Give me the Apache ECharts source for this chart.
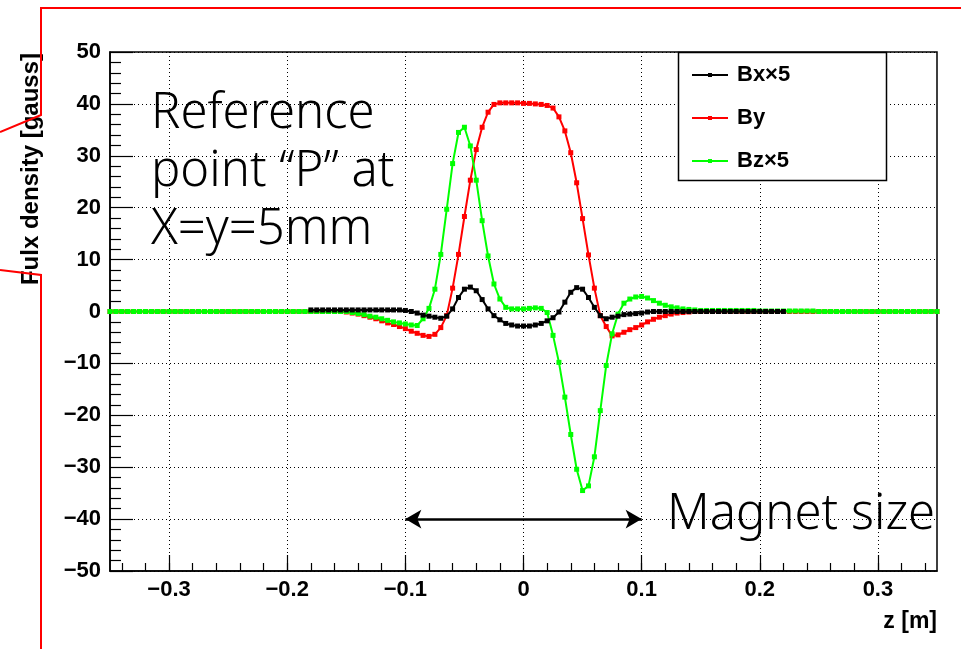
<!DOCTYPE html>
<html>
<head>
<meta charset="utf-8">
<script src="https://cdn.jsdelivr.net/npm/echarts@6.0.0/dist/echarts.min.js"></script>
<style>
  html, body { margin: 0; padding: 0; background: #ffffff; }
  #chart { width: 961px; height: 649px; }
</style>
</head>
<body>
<div id="chart"></div>
<script>
// Sample positions along the beam axis z [m]
const zPos = [
  -0.350, -0.345, -0.340, -0.335, -0.330, -0.325, -0.320, -0.315, -0.310, -0.305,
  -0.300, -0.295, -0.290, -0.285, -0.280, -0.275, -0.270, -0.265, -0.260, -0.255,
  -0.250, -0.245, -0.240, -0.235, -0.230, -0.225, -0.220, -0.215, -0.210, -0.205,
  -0.200, -0.195, -0.190, -0.185, -0.180, -0.175, -0.170, -0.165, -0.160, -0.155,
  -0.150, -0.145, -0.140, -0.135, -0.130, -0.125, -0.120, -0.115, -0.110, -0.105,
  -0.100, -0.095, -0.090, -0.085, -0.080, -0.075, -0.070, -0.065, -0.060, -0.055,
  -0.050, -0.045, -0.040, -0.035, -0.030, -0.025, -0.020, -0.015, -0.010, -0.005,
   0.000,  0.005,  0.010,  0.015,  0.020,  0.025,  0.030,  0.035,  0.040,  0.045,
   0.050,  0.055,  0.060,  0.065,  0.070,  0.075,  0.080,  0.085,  0.090,  0.095,
   0.100,  0.105,  0.110,  0.115,  0.120,  0.125,  0.130,  0.135,  0.140,  0.145,
   0.150,  0.155,  0.160,  0.165,  0.170,  0.175,  0.180,  0.185,  0.190,  0.195,
   0.200,  0.205,  0.210,  0.215,  0.220,  0.225,  0.230,  0.235,  0.240,  0.245,
   0.250,  0.255,  0.260,  0.265,  0.270,  0.275,  0.280,  0.285,  0.290,  0.295,
   0.300,  0.305,  0.310,  0.315,  0.320,  0.325,  0.330,  0.335,  0.340,  0.345,
   0.350
];

// Bx x 5 [gauss] (measured only between about -0.18 and 0.22 m)
const bx5 = [
  null, null, null, null, null, null, null, null, null, null,
  null, null, null, null, null, null, null, null, null, null,
  null, null, null, null, null, null, null, null, null, null,
  null, null, null, null, 0.3, 0.3, 0.3, 0.3, 0.3, 0.3,
  0.3, 0.3, 0.3, 0.3, 0.3, 0.3, 0.3, 0.3, 0.3, 0.3,
  0.2, 0.0, -0.3, -0.7, -0.9, -1.1, -1.3, -0.9, 0.5, 2.7,
  4.3, 4.7, 4.0, 2.3, 0.5, -0.8, -1.6, -2.3, -2.6, -2.8,
  -2.8, -2.8, -2.6, -2.3, -1.8, -1.2, -0.1, 1.8, 3.7, 4.6,
  4.3, 2.7, 0.8, -0.8, -1.4, -1.1, -0.9, -0.6, -0.5, -0.4,
  -0.3, -0.1, 0.0, 0.0, 0.0, 0.0, 0.0, 0.0, 0.0, 0.0,
  0.0, 0.0, 0.0, 0.0, 0.0, 0.0, 0.0, 0.0, 0.0, 0.0,
  0.0, 0.0, 0.0, 0.0, 0.0, null, null, null, null, null,
  null, null, null, null, null, null, null, null, null, null,
  null, null, null, null, null, null, null, null, null, null,
  null
];

// By [gauss]
const by = [
  0, 0, 0, 0, 0, 0, 0, 0, 0, 0,
  0, 0, 0, 0, 0, 0, 0, 0, 0, 0,
  0, 0, 0, 0, 0, 0, 0, 0, 0, 0,
  0, 0, 0, 0, 0, 0, 0, 0, 0, 0,
  -0.1, -0.3, -0.5, -0.8, -1.1, -1.4, -1.8, -2.2, -2.5, -2.9,
  -3.3, -3.8, -4.2, -4.6, -4.8, -4.4, -3.1, -0.8, 4.5, 11.0,
  18.3, 25.3, 31.2, 35.5, 38.4, 39.9, 40.2, 40.2, 40.2, 40.2,
  40.1, 40.1, 40.0, 39.9, 39.7, 39.2, 37.5, 34.8, 30.6, 24.8,
  17.9, 10.9, 4.5, -0.8, -2.9, -4.7, -4.5, -4.0, -3.5, -3.1,
  -2.6, -2.0, -1.5, -1.1, -0.8, -0.5, -0.3, -0.2, -0.1, 0,
  0, 0, 0, 0, 0, 0, 0, 0, 0, 0,
  0, 0, 0, 0, 0, 0, 0, 0, 0, 0,
  0, 0, 0, 0, 0, 0, 0, 0, 0, 0,
  0, 0, 0, 0, 0, 0, 0, 0, 0, 0,
  0
];

// Bz x 5 [gauss]
const bz5 = [
  0, 0, 0, 0, 0, 0, 0, 0, 0, 0,
  0, 0, 0, 0, 0, 0, 0, 0, 0, 0,
  0, 0, 0, 0, 0, 0, 0, 0, 0, 0,
  0, 0, 0, 0, 0, 0, 0, 0, 0, 0,
  0, -0.2, -0.4, -0.6, -0.9, -1.1, -1.4, -1.7, -2.0, -2.2,
  -2.4, -2.6, -2.7, -1.4, 0.6, 4.3, 11.0, 19.7, 28.5, 34.5,
  35.5, 31.9, 25.3, 17.5, 10.7, 5.3, 2.4, 0.8, 0.5, 0.5,
  0.5, 0.6, 0.7, 0.6, -0.2, -4.6, -9.8, -16.5, -23.7, -30.4,
  -34.5, -33.6, -28.0, -19.1, -10.4, -4.3, -0.5, 1.6, 2.4, 2.8,
  2.9, 2.6, 2.1, 1.6, 1.2, 0.9, 0.7, 0.5, 0.4, 0.3,
  0.2, 0.2, 0.2, 0.2, 0.2, 0.2, 0.2, 0.2, 0.2, 0.2,
  0.1, 0.1, 0.1, 0.1, 0.1, 0.1, 0.1, 0.1, 0.1, 0.1,
  0, 0, 0, 0, 0, 0, 0, 0, 0, 0,
  0, 0, 0, 0, 0, 0, 0, 0, 0, 0,
  0
];

const seriesNames = ['Bx\u00d75', 'By', 'Bz\u00d75'];
const seriesColors = ['#000000', '#ff0000', '#00ff00'];

// Magnet extent along z [m] and the field level where the span arrow sits
const magnetSpan = [-0.1, 0.1];
const magnetArrowLevel = -40;

const labelFont = '"Liberation Sans", Arial, sans-serif';
const noteFont = '"Noto Sans", "Noto Sans CJK JP", sans-serif';

function pairs(vals) {
  const out = [];
  zPos.forEach((z, i) => { if (vals[i] !== null) out.push([z, vals[i]]); });
  return out;
}

function signed(v, digits) {
  if (Math.abs(v) < 1e-9) return '0';
  const s = Math.abs(v).toFixed(digits);
  return (v < 0 ? '\u2212' : '') + s;
}

// Plot frame in pixels; the tick-only grids share its pixel scale
const frame = { left: 110, right: 24, top: 52, bottom: 78 };
const zMin = -0.35, zMax = 0.35;
const pxPerZ = (961 - frame.left - frame.right) / (zMax - zMin);

function subGrid(lo, hi) {
  return {
    left: frame.left + (lo - zMin) * pxPerZ,
    right: frame.right + (zMax - hi) * pxPerZ,
    top: frame.top, bottom: frame.bottom,
    show: false, outerBoundsMode: 'none'
  };
}

const chart = echarts.init(document.getElementById('chart'), null, { renderer: 'canvas' });

const lineSeries = (name, vals, color, z, extra) => Object.assign({
  name: name,
  type: 'line',
  xAxisIndex: 0, yAxisIndex: 0,
  data: pairs(vals),
  symbol: 'rect',
  symbolSize: 5,
  showSymbol: true,
  smooth: false,
  z: z,
  lineStyle: { color: color, width: 2 },
  itemStyle: { color: color },
  emphasis: { disabled: true },
  animation: false
}, extra || {});

const option = {
  animation: false,
  backgroundColor: '#ffffff',
  grid: [
    Object.assign({ show: true, backgroundColor: 'transparent', borderColor: '#000', borderWidth: 1.5, outerBoundsMode: 'none' }, frame),
    subGrid(-0.34, 0.34),
    subGrid(-0.3, 0.3)
  ],
  xAxis: [
    {
      gridIndex: 0, type: 'value', min: zMin, max: zMax,
      axisLine: { show: true, onZero: false, lineStyle: { color: '#000', width: 1.5 } },
      axisTick: { show: false }, axisLabel: { show: false }, splitLine: { show: false }
    },
    {
      gridIndex: 1, type: 'value', min: -0.34, max: 0.34, interval: 0.02,
      axisLine: { show: false, onZero: false },
      axisTick: { show: true, inside: true, length: 8, lineStyle: { color: '#000', width: 1.2 } },
      axisLabel: { show: false }, splitLine: { show: false }
    },
    {
      gridIndex: 2, type: 'value', min: -0.3, max: 0.3, interval: 0.1,
      axisLine: { show: false, onZero: false },
      axisTick: { show: true, inside: true, length: 16, lineStyle: { color: '#000', width: 1.2 } },
      axisLabel: {
        show: true, margin: 8, color: '#000', fontFamily: labelFont, fontWeight: 'bold', fontSize: 22,
        showMinLabel: true, showMaxLabel: true,
        formatter: v => signed(v, 1)
      },
      splitLine: { show: true, lineStyle: { color: '#000', width: 1, type: [1, 3] } }
    }
  ],
  yAxis: [
    {
      gridIndex: 0, type: 'value', min: -50, max: 50, interval: 10,
      axisLine: { show: true, onZero: false, lineStyle: { color: '#000', width: 1.5 } },
      axisTick: { show: true, inside: true, length: 23, lineStyle: { color: '#000', width: 1.2 } },
      minorTick: { show: true, splitNumber: 5, length: 11, lineStyle: { color: '#000', width: 1.2 } },
      axisLabel: {
        show: true, margin: 9, color: '#000', fontFamily: labelFont, fontWeight: 'bold', fontSize: 22,
        showMinLabel: true, showMaxLabel: true,
        formatter: v => signed(v, 0)
      },
      splitLine: { show: true, lineStyle: { color: '#000', width: 1, type: [1, 3] } },
      minorSplitLine: { show: false }
    },
    { gridIndex: 1, type: 'value', min: -50, max: 50, show: false },
    { gridIndex: 2, type: 'value', min: -50, max: 50, show: false }
  ],
  legend: {
    orient: 'vertical',
    left: 686, top: 59,
    itemWidth: 36, itemHeight: 5, itemGap: 21,
    selectedMode: false,
    z: 20,
    data: seriesNames,
    textStyle: { color: '#000', fontFamily: labelFont, fontWeight: 'bold', fontSize: 22, padding: [0, 0, 0, 4] }
  },
  series: [
    lineSeries(seriesNames[1], by, seriesColors[1], 3),
    lineSeries(seriesNames[2], bz5, seriesColors[2], 4),
    lineSeries(seriesNames[0], bx5, seriesColors[0], 5, {
      markLine: {
        silent: true,
        symbol: ['arrow', 'arrow'],
        symbolSize: [14, 16],
        label: { show: false },
        lineStyle: { color: '#000', width: 2.5, type: 'solid' },
        data: [[
          { coord: [magnetSpan[0], magnetArrowLevel] },
          { coord: [magnetSpan[1], magnetArrowLevel] }
        ]],
        animation: false
      }
    })
  ],
  graphic: [
    // legend box
    {
      type: 'rect', z: 15, silent: true,
      shape: { x: 678.5, y: 52.5, width: 208, height: 128 },
      style: { fill: '#fff', stroke: '#000', lineWidth: 1.5 }
    },
    // y-axis title
    {
      type: 'text', z: 30, silent: true,
      x: 31, y: 53, rotation: Math.PI / 2,
      style: {
        text: 'Fulx density [gauss]', font: 'bold 24px ' + labelFont, fill: '#000',
        align: 'right', verticalAlign: 'middle', textAlign: 'right', textVerticalAlign: 'middle'
      }
    },
    // x-axis title
    {
      type: 'text', z: 30, silent: true,
      x: 937, y: 622,
      style: {
        text: 'z [m]', font: 'bold 23px ' + labelFont, fill: '#000',
        align: 'right', verticalAlign: 'middle', textAlign: 'right', textVerticalAlign: 'middle'
      }
    },
    // reference point note
    {
      type: 'text', z: 30, silent: true,
      x: 151, y: 85,
      style: {
        text: 'Reference\npoint \u201cP\u201d at\nX=y=5mm', font: '300 49px ' + noteFont, fill: '#000',
        lineHeight: 58, align: 'left', verticalAlign: 'top', textAlign: 'left', textVerticalAlign: 'top'
      }
    },
    // magnet size note
    {
      type: 'text', z: 30, silent: true,
      x: 667, y: 491,
      style: {
        text: 'Magnet size', font: '300 49px ' + noteFont, fill: '#000',
        align: 'left', verticalAlign: 'top', textAlign: 'left', textVerticalAlign: 'top'
      }
    },
    // red callout outline
    {
      type: 'polyline', z: 30, silent: true,
      shape: { points: [[0, 132], [41, 115], [41, 8], [961, 8]] },
      style: { stroke: '#ff0000', lineWidth: 2, fill: null }
    },
    {
      type: 'polyline', z: 30, silent: true,
      shape: { points: [[0, 270], [41, 275], [41, 649]] },
      style: { stroke: '#ff0000', lineWidth: 2, fill: null }
    }
  ]
};

chart.setOption(option);
</script>
</body>
</html>
